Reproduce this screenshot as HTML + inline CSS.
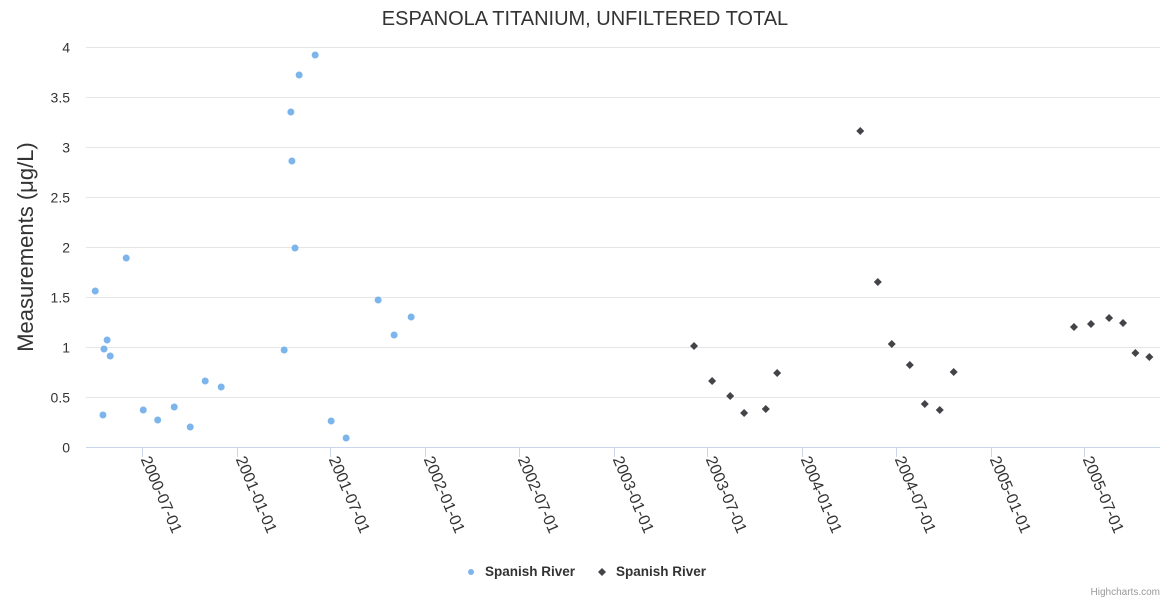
<!DOCTYPE html>
<html><head><meta charset="utf-8"><style>
body{margin:0;background:#fff;font-family:"Liberation Sans",sans-serif;}
svg text{font-family:"Liberation Sans",sans-serif;}
</style></head><body>
<svg id="chart" width="1170" height="600" xmlns="http://www.w3.org/2000/svg">
<rect width="1170" height="600" fill="#fff"/>
<text x="585" y="25" text-anchor="middle" font-size="20" fill="#333">ESPANOLA TITANIUM, UNFILTERED TOTAL</text>
<text transform="translate(33,247) rotate(-90)" text-anchor="middle" font-size="22" fill="#333">Measurements (μg/L)</text>
<g id="grid"></g><g id="xaxis"></g><g id="marks"></g>
<g>
<g><circle cx="471" cy="572" r="3" fill="#7cb5ec"/><text x="485" y="576" font-size="13.5" font-weight="bold" fill="#333">Spanish River</text></g>
<g><path d="M602,568 L606,572 L602,576 L598,572 Z" fill="#434348"/><text x="616" y="576" font-size="13.5" font-weight="bold" fill="#333">Spanish River</text></g>
</g>
<text x="1160" y="595" text-anchor="end" font-size="10" fill="#999">Highcharts.com</text>
</svg>
<script>
const yTicks=[0,0.5,1,1.5,2,2.5,3,3.5,4];
const yTickLabels=["0","0.5","1","1.5","2","2.5","3","3.5","4"];
const xTicks=["2000-07-01","2001-01-01","2001-07-01","2002-01-01","2002-07-01","2003-01-01","2003-07-01","2004-01-01","2004-07-01","2005-01-01","2005-07-01"];
const blueDates=["2000-04-02","2000-04-17","2000-04-19","2000-04-25","2000-05-01","2000-06-01","2000-07-04","2000-08-01","2000-09-02","2000-10-03","2000-11-01","2000-12-02","2001-04-03","2001-04-16","2001-04-18","2001-04-24","2001-05-02","2001-06-02","2001-07-03","2001-08-01","2001-10-02","2001-11-02","2001-12-05"];
const blueValues=[1.56,0.32,0.98,1.07,0.91,1.89,0.37,0.27,0.40,0.20,0.66,0.60,0.97,3.35,2.86,1.99,3.72,3.92,0.26,0.09,1.47,1.12,1.30];
const blackDates=["2003-06-06","2003-07-11","2003-08-15","2003-09-11","2003-10-23","2003-11-14","2004-04-23","2004-05-27","2004-06-23","2004-07-28","2004-08-26","2004-09-24","2004-10-21","2005-06-11","2005-07-14","2005-08-18","2005-09-14","2005-10-08","2005-11-04"];
const blackValues=[1.01,0.66,0.51,0.34,0.38,0.74,3.16,1.65,1.03,0.82,0.43,0.37,0.75,1.20,1.23,1.29,1.24,0.94,0.90];
const NS="http://www.w3.org/2000/svg";
const L=86,R=1160,Y0=447,YT=47;
const t0=Date.parse("2000-07-01"),t1=Date.parse("2005-07-01");
function xs(d){return 141.7+(Date.parse(d)-t0)/(t1-t0)*(1084.3-141.7);}
function ys(v){return Y0-(v/4)*(Y0-YT);}
function mk(tag,attrs,parent){const e=document.createElementNS(NS,tag);for(const k in attrs)e.setAttribute(k,attrs[k]);parent.appendChild(e);return e;}
const grid=document.getElementById('grid'),xa=document.getElementById('xaxis'),marks=document.getElementById('marks');
yTicks.forEach((v,i)=>{
 const y=Math.round(ys(v))+0.5;
 const ln=mk('line',{x1:L,x2:R,y1:y,y2:y,stroke:i===0?'#ccd6eb':'#e6e6e6','stroke-width':1},grid);
 
 
 const t=mk('text',{x:70,y:y+5,'text-anchor':'end','font-size':14,fill:'#333'},grid);
 t.textContent=yTickLabels[i];
 
 
});
xTicks.forEach(d=>{
 const x=Math.round(xs(d))+0.5;
 const tk=mk('line',{x1:x,x2:x,y1:Y0,y2:Y0+10,stroke:'#ccd6eb'},xa);
 
 
 const t=mk('text',{transform:`translate(${x-2},${Y0+12}) rotate(67)`,'font-size':16,fill:'#333'},xa);
 t.textContent=d;
 
 
});
blueDates.forEach((d,i)=>{
 const c=mk('circle',{cx:xs(d),cy:ys(blueValues[i]),r:3.5,fill:'#7cb5ec'},marks);
 
 
});
blackDates.forEach((d,i)=>{
 const x=xs(d),y=ys(blackValues[i]);
 const p=mk('path',{d:`M${x},${y-4}L${x+4},${y}L${x},${y+4}L${x-4},${y}Z`,fill:'#434348'},marks);
 
 
});
</script>
</body></html>
